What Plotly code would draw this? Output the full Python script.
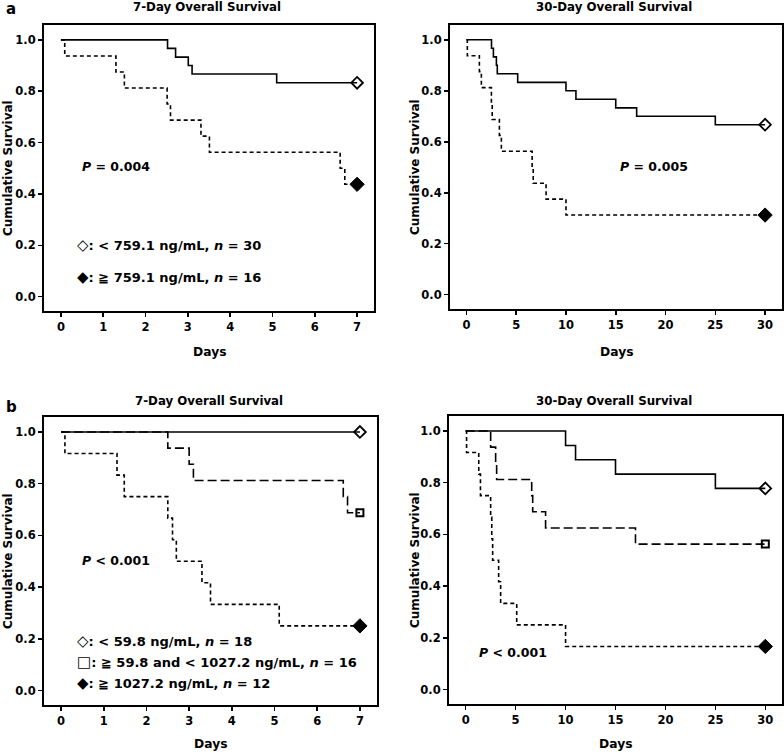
import plotly.graph_objects as go

# ---------------- data ----------------
# Panel a, 7-day
a7_low_t = [0, 2.52, 2.71, 3.01, 3.10, 5.10, 7]
a7_low_s = [1.0, 0.967, 0.933, 0.900, 0.867, 0.833, 0.833]
a7_high_t = [0, 0.09, 1.30, 1.50, 2.51, 2.59, 3.31, 3.51, 6.60, 6.71, 7]
a7_high_s = [1.0, 0.9375, 0.875, 0.8125, 0.75, 0.6875, 0.625, 0.5625, 0.5, 0.4375, 0.4375]
# Panel a, 30-day
a30_low_t = [0, 2.52, 2.71, 3.01, 3.10, 5.15, 10.0, 11.0, 15.0, 17.1, 25.0, 30]
a30_low_s = [1.0, 0.967, 0.933, 0.900, 0.867, 0.833, 0.800, 0.767, 0.733, 0.700, 0.667, 0.667]
a30_high_t = [0, 0.09, 1.30, 1.50, 2.51, 2.59, 3.31, 3.51, 6.60, 6.71, 8.0, 10.0, 30]
a30_high_s = [1.0, 0.9375, 0.875, 0.8125, 0.75, 0.6875, 0.625, 0.5625, 0.5, 0.4375, 0.375, 0.3125, 0.3125]
# Panel b, 7-day
b7_low_t = [0, 7]
b7_low_s = [1.0, 1.0]
b7_mid_t = [0, 2.50, 3.00, 3.10, 6.61, 6.71, 7]
b7_mid_s = [1.0, 0.9375, 0.875, 0.8125, 0.75, 0.6875, 0.6875]
b7_high_t = [0, 0.09, 1.31, 1.48, 2.50, 2.61, 2.70, 3.30, 3.50, 5.11, 7]
b7_high_s = [1.0, 0.9167, 0.8333, 0.75, 0.6667, 0.5833, 0.5, 0.4167, 0.3333, 0.25, 0.25]
# Panel b, 30-day
b30_low_t = [0, 10.0, 11.0, 15.0, 25.0, 30]
b30_low_s = [1.0, 0.944, 0.889, 0.833, 0.778, 0.778]
b30_mid_t = [0, 2.50, 3.00, 3.10, 6.61, 6.71, 8.0, 17.0, 30]
b30_mid_s = [1.0, 0.9375, 0.875, 0.8125, 0.75, 0.6875, 0.625, 0.5625, 0.5625]
b30_high_t = [0, 0.09, 1.31, 1.48, 2.50, 2.61, 2.70, 3.30, 3.50, 5.11, 10.0, 30]
b30_high_s = [1.0, 0.9167, 0.8333, 0.75, 0.6667, 0.5833, 0.5, 0.4167, 0.3333, 0.25, 0.1667, 0.1667]

x7_ticks = [0, 1, 2, 3, 4, 5, 6, 7]
x30_ticks = [0, 5, 10, 15, 20, 25, 30]
y_ticks = [0.0, 0.2, 0.4, 0.6, 0.8, 1.0]

panel_titles = ["7-Day Overall Survival", "30-Day Overall Survival",
                "7-Day Overall Survival", "30-Day Overall Survival"]
p_texts = ["<i>P</i> = 0.004", "<i>P</i> = 0.005", "<i>P</i> < 0.001", "<i>P</i> < 0.001"]
legend_a_sym = ["◇", "◆"]
legend_a = [": < 759.1 ng/mL, <i>n</i> = 30", ": ≧ 759.1 ng/mL, <i>n</i> = 16"]
legend_b_sym = ["◇", "□", "◆"]
legend_b = [": < 59.8 ng/mL, <i>n</i> = 18",
            ": ≧ 59.8 and < 1027.2 ng/mL, <i>n</i> = 16",
            ": ≧ 1027.2 ng/mL, <i>n</i> = 12"]

# ---------------- layout helpers ----------------
W, H = 784, 754
FONT = "DejaVu Sans, sans-serif"


def px_x(p):
    return p / W


def px_y(p):
    return 1 - p / H


fig = go.Figure()

# panel frames in window pixels: (left, right, top, bottom)
panels = [
    (44, 374, 25, 311, [-0.40, 7.40], x7_ticks),
    (450, 782, 25, 309, [-1.65, 31.7], x30_ticks),
    (44, 377, 417, 705, [-0.40, 7.40], x7_ticks),
    (449, 782, 416, 704, [-1.67, 31.67], x30_ticks),
]

SOLID = dict(color="black", width=1.6, dash="solid")
SHORT = dict(color="black", width=1.6, dash="4px,3px")
LONG = dict(color="black", width=1.6, dash="9px,4px")

curves = [
    (0, a7_low_t, a7_low_s, SOLID, "diamond-open"),
    (0, a7_high_t, a7_high_s, SHORT, "diamond"),
    (1, a30_low_t, a30_low_s, SOLID, "diamond-open"),
    (1, a30_high_t, a30_high_s, SHORT, "diamond"),
    (2, b7_low_t, b7_low_s, SOLID, "diamond-open"),
    (2, b7_mid_t, b7_mid_s, LONG, "square-open"),
    (2, b7_high_t, b7_high_s, SHORT, "diamond"),
    (3, b30_low_t, b30_low_s, SOLID, "diamond-open"),
    (3, b30_mid_t, b30_mid_s, LONG, "square-open"),
    (3, b30_high_t, b30_high_s, SHORT, "diamond"),
]

layout = dict(
    width=W, height=H,
    margin=dict(l=0, r=0, t=0, b=0),
    paper_bgcolor="white", plot_bgcolor="white",
    showlegend=False,
    font=dict(family=FONT, size=12, color="black", weight="bold"),
)


def bold(size):
    return dict(family=FONT, size=size, color="black", weight="bold")


annotations = []
for i, (l, r, t, b, xr, xt) in enumerate(panels):
    suffix = "" if i == 0 else str(i + 1)
    layout["xaxis" + suffix] = dict(
        domain=[px_x(l), px_x(r)], range=xr, anchor="y" + suffix,
        tickvals=xt, ticks="outside", ticklen=4, tickwidth=1.5, tickcolor="black",
        showline=True, mirror=True, linecolor="black", linewidth=2,
        showgrid=False, zeroline=False, tickfont=bold(11.5), fixedrange=True,
    )
    layout["yaxis" + suffix] = dict(
        domain=[px_y(b), px_y(t)], range=[-0.056, 1.058], anchor="x" + suffix,
        tickvals=y_ticks, tickformat=".1f", ticks="outside", ticklen=4,
        tickwidth=1.5, tickcolor="black",
        showline=True, mirror=True, linecolor="black", linewidth=2,
        showgrid=False, zeroline=False, tickfont=bold(11.5), fixedrange=True,
    )
    cx = (l + r) / 2
    title_y = 7 if i < 2 else 401
    title_x = cx - 2
    annotations.append(dict(
        text=panel_titles[i], x=px_x(title_x), y=px_y(title_y), xref="paper", yref="paper",
        showarrow=False, xanchor="center", yanchor="middle", font=bold(11.8)))
    days_y = 352 if i < 2 else 744
    annotations.append(dict(
        text="Days", x=px_x(cx), y=px_y(days_y), xref="paper", yref="paper",
        showarrow=False, xanchor="center", yanchor="middle", font=bold(12.3)))
    ylab_x = 8 if i in (0, 2) else 415
    annotations.append(dict(
        text="Cumulative Survival", x=px_x(ylab_x), y=px_y((t + b) / 2),
        xref="paper", yref="paper", textangle=-90,
        showarrow=False, xanchor="center", yanchor="middle", font=bold(12)))

fig.update_layout(**layout)

for pidx, t, s, line, sym in curves:
    suffix = "" if pidx == 0 else str(pidx + 1)
    fig.add_trace(go.Scatter(
        x=t, y=s, mode="lines", line=dict(shape="hv", **line),
        xaxis="x" + suffix, yaxis="y" + suffix, hoverinfo="skip"))
    if sym == "square-open":
        size, lw = 7, 2
    elif sym == "diamond-open":
        size, lw = 9, 1.8
    else:
        size, lw = 11, 1
    fig.add_trace(go.Scatter(
        x=[t[-1]], y=[s[-1]], mode="markers",
        marker=dict(symbol=sym, size=size, color="black",
                    line=dict(color="black", width=lw)),
        xaxis="x" + suffix, yaxis="y" + suffix, hoverinfo="skip"))

# panel letters
for letter, yy in (("a", 9), ("b", 407)):
    annotations.append(dict(
        text=letter, x=px_x(4), y=px_y(yy), xref="paper", yref="paper",
        showarrow=False, xanchor="left", yanchor="middle", font=bold(15)))

# P values: (x px, y px)
p_pos = [(80, 166), (618, 166), (80, 560), (477, 652)]
for txt, (xx, yy) in zip(p_texts, p_pos):
    annotations.append(dict(
        text=txt, x=px_x(xx), y=px_y(yy), xref="paper", yref="paper",
        showarrow=False, xanchor="left", yanchor="middle", font=bold(12.5)))


def legend_line(sym, txt):
    return '<span style="font-size:15px">' + sym + "</span>" + txt


for sym, txt, yy in zip(legend_a_sym, legend_a, (245, 277)):
    annotations.append(dict(
        text=legend_line(sym, txt), x=px_x(75), y=px_y(yy), xref="paper", yref="paper",
        showarrow=False, xanchor="left", yanchor="middle", font=bold(13)))
for sym, txt, yy in zip(legend_b_sym, legend_b, (641, 662, 683)):
    annotations.append(dict(
        text=legend_line(sym, txt), x=px_x(75), y=px_y(yy), xref="paper", yref="paper",
        showarrow=False, xanchor="left", yanchor="middle", font=bold(13)))

fig.update_layout(annotations=annotations)
fig.write_html(
    "out.html",
    config={"displayModeBar": False, "staticPlot": True},
    post_script="document.body.style.margin='0px';document.body.style.padding='0px';"
                "document.body.style.overflow='hidden';",
)
